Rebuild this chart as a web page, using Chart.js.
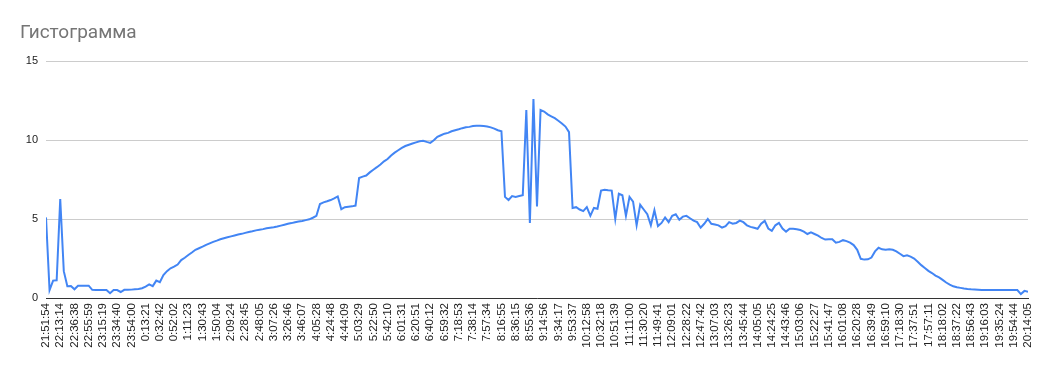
<!DOCTYPE html>
<html>
<head>
<meta charset="utf-8">
<title>Гистограмма</title>
<script src="https://cdn.jsdelivr.net/npm/chart.js@4.4.1/dist/chart.umd.min.js"></script>
<style>
    body { margin: 0; background: #fff; }
    #wrap { position: relative; width: 1047px; height: 371px; }
    #title {
        position: absolute; left: 20px; top: 22px;
        font: 19px Roboto, 'Liberation Sans', sans-serif; line-height: 19px;
        color: #757575;
    }
</style>
</head>
<body>
<div id="wrap">
    <div id="title">Гистограмма</div>
    <canvas id="chart"></canvas>
</div>
<script>
// Tick labels on the time axis (one every ~19.5 minutes)
const TICK_LABELS = [
    '21:51:54', '22:13:14', '22:36:38', '22:55:59', '23:15:19', '23:34:40', '23:54:00',
    '0:13:21', '0:32:42', '0:52:02', '1:11:23', '1:30:43', '1:50:04', '2:09:24',
    '2:28:45', '2:48:05', '3:07:26', '3:26:46', '3:46:07', '4:05:28', '4:24:48',
    '4:44:09', '5:03:29', '5:22:50', '5:42:10', '6:01:31', '6:20:51', '6:40:12',
    '6:59:32', '7:18:53', '7:38:14', '7:57:34', '8:16:55', '8:36:15', '8:55:36',
    '9:14:56', '9:34:17', '9:53:37', '10:12:58', '10:32:18', '10:51:39', '11:11:00',
    '11:30:20', '11:49:41', '12:09:01', '12:28:22', '12:47:42', '13:07:03', '13:26:23',
    '13:45:44', '14:05:05', '14:24:25', '14:43:46', '15:03:06', '15:22:27', '15:41:47',
    '16:01:08', '16:20:28', '16:39:49', '16:59:10', '17:18:30', '17:37:51', '17:57:11',
    '18:18:02', '18:37:22', '18:56:43', '19:16:03', '19:35:24', '19:54:44', '20:14:05'
];

const POINTS_PER_LABEL = 4;
const VALUES = [
    5.1, 0.5, 1.1, 1.12, 6.27, 1.7, 0.75, 0.76, 0.55, 0.78, 0.78, 0.78, 0.78, 0.52, 0.5, 0.5, 0.5, 0.5, 0.3, 0.5,
    0.5, 0.38, 0.52, 0.52, 0.53, 0.55, 0.57, 0.62, 0.72, 0.86, 0.75, 1.1, 1.0, 1.45, 1.7, 1.88, 1.98, 2.12, 2.4, 2.55,
    2.72, 2.88, 3.05, 3.15, 3.25, 3.36, 3.46, 3.55, 3.63, 3.72, 3.78, 3.84, 3.9, 3.96, 4.02, 4.06, 4.12, 4.18, 4.22, 4.28,
    4.32, 4.36, 4.42, 4.45, 4.48, 4.52, 4.58, 4.64, 4.7, 4.74, 4.8, 4.84, 4.88, 4.93, 4.98, 5.08, 5.2, 5.95, 6.05, 6.12,
    6.2, 6.3, 6.43, 5.62, 5.75, 5.78, 5.8, 5.85, 7.59, 7.68, 7.75, 7.95, 8.12, 8.28, 8.45, 8.65, 8.8, 9.02, 9.2, 9.35,
    9.5, 9.62, 9.7, 9.78, 9.85, 9.92, 9.95, 9.88, 9.82, 9.98, 10.2, 10.3, 10.4, 10.45, 10.55, 10.62, 10.68, 10.75, 10.8, 10.83,
    10.88, 10.9, 10.9, 10.88, 10.86, 10.8, 10.72, 10.62, 10.55, 6.4, 6.2, 6.45, 6.4, 6.45, 6.5, 11.9, 4.75, 12.6, 5.8, 11.9,
    11.8, 11.62, 11.5, 11.38, 11.22, 11.05, 10.85, 10.5, 5.7, 5.75, 5.6, 5.5, 5.75, 5.2, 5.7, 5.65, 6.8, 6.85, 6.82, 6.8,
    5.0, 6.6, 6.5, 5.2, 6.4, 6.1, 4.6, 5.9, 5.6, 5.3, 4.6, 5.55, 4.55, 4.75, 5.1, 4.8, 5.2, 5.3, 4.95, 5.15,
    5.2, 5.05, 4.9, 4.8, 4.45, 4.7, 5.0, 4.7, 4.65, 4.6, 4.45, 4.55, 4.8, 4.7, 4.75, 4.9, 4.8, 4.6, 4.5, 4.45,
    4.38, 4.7, 4.88, 4.4, 4.25, 4.6, 4.75, 4.4, 4.2, 4.38, 4.38, 4.35, 4.3, 4.2, 4.05, 4.15, 4.05, 3.95, 3.8, 3.7,
    3.72, 3.72, 3.5, 3.55, 3.66, 3.6, 3.5, 3.35, 3.05, 2.48, 2.43, 2.45, 2.56, 2.95, 3.18, 3.08, 3.06, 3.08, 3.05, 2.95,
    2.8, 2.65, 2.7, 2.62, 2.5, 2.3, 2.08, 1.9, 1.72, 1.58, 1.42, 1.3, 1.15, 0.98, 0.85, 0.74, 0.68, 0.64, 0.6, 0.57,
    0.55, 0.54, 0.52, 0.5, 0.5, 0.5, 0.5, 0.5, 0.5, 0.5, 0.5, 0.5, 0.5, 0.5, 0.25, 0.45, 0.4
];

const Y_MAX = 15;
const Y_STEP = 5;

const COLORS = {
    line: '#4285f4',
    grid: '#cccccc',
    axis: '#333333',
    text: '#222222'
};

const FONT = "Arial, 'Liberation Sans', sans-serif";

new Chart(document.getElementById('chart'), {
    type: 'line',
    data: {
        datasets: [{
            data: VALUES.map((v, i) => ({ x: i / POINTS_PER_LABEL, y: v })),
            borderColor: COLORS.line,
            borderWidth: 2,
            pointRadius: 0,
            tension: 0,
            fill: false
        }]
    },
    options: {
        responsive: true,
        maintainAspectRatio: false,
        animation: false,
        layout: {
            padding: { left: 20, right: 19, top: 61, bottom: 0 }
        },
        plugins: {
            legend: { display: false },
            tooltip: { enabled: false }
        },
        scales: {
            x: {
                type: 'linear',
                min: 0,
                max: TICK_LABELS.length - 1,
                grid: { display: false, drawTicks: false },
                border: { display: true, color: COLORS.axis, width: 1 },
                ticks: {
                    stepSize: 1,
                    autoSkip: false,
                    maxTicksLimit: 200,
                    minRotation: 90,
                    maxRotation: 90,
                    padding: 5,
                    color: COLORS.text,
                    font: { family: FONT, size: 11.5 },
                    callback: function(value) {
                        return TICK_LABELS[value] ?? '';
                    }
                },
                afterFit: function(scale) {
                    scale.height = 73;
                }
            },
            y: {
                min: 0,
                max: Y_MAX,
                grid: { color: COLORS.grid, drawTicks: false },
                border: { display: false },
                ticks: {
                    stepSize: Y_STEP,
                    padding: 8,
                    color: COLORS.text,
                    font: { family: FONT, size: 11 }
                },
                afterFit: function(scale) {
                    scale.width = 26;
                }
            }
        }
    }
});
</script>
</body>
</html>
